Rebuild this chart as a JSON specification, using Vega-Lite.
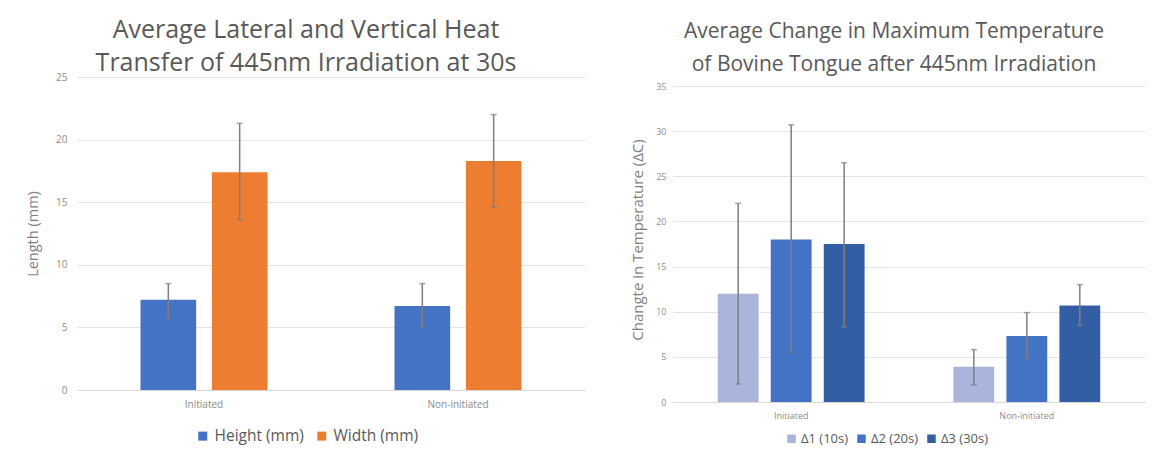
{
  "$schema": "https://vega.github.io/schema/vega-lite/v6.json",
  "padding": {"left": 25, "top": 18, "right": 7, "bottom": 5},
  "background": "white",
  "datasets": {
    "heat": [
      {"group": "Initiated", "series": "Height (mm)", "value": 7.2, "lo": 5.7, "hi": 8.5},
      {"group": "Initiated", "series": "Width (mm)", "value": 17.4, "lo": 13.6, "hi": 21.3},
      {"group": "Non-initiated", "series": "Height (mm)", "value": 6.7, "lo": 5.0, "hi": 8.5},
      {"group": "Non-initiated", "series": "Width (mm)", "value": 18.3, "lo": 14.6, "hi": 22.0}
    ],
    "temp": [
      {"group": "Initiated", "series": "Δ1 (10s)", "value": 12.0, "lo": 2.0, "hi": 22.0},
      {"group": "Initiated", "series": "Δ2 (20s)", "value": 18.0, "lo": 5.5, "hi": 30.7},
      {"group": "Initiated", "series": "Δ3 (30s)", "value": 17.5, "lo": 8.3, "hi": 26.5},
      {"group": "Non-initiated", "series": "Δ1 (10s)", "value": 3.9, "lo": 1.9, "hi": 5.8},
      {"group": "Non-initiated", "series": "Δ2 (20s)", "value": 7.3, "lo": 4.8, "hi": 9.9},
      {"group": "Non-initiated", "series": "Δ3 (30s)", "value": 10.7, "lo": 8.5, "hi": 13.0}
    ]
  },
  "config": {
    "font": "Open Sans",
    "view": {"stroke": null},
    "axis": {"labelColor": "#8c8c8c", "titleColor": "#7f7f7f", "titleFontWeight": "normal", "labelFont": "Open Sans", "titleFont": "Open Sans"},
    "legend": {"labelColor": "#595959", "labelFont": "Open Sans"}
  },
  "spacing": 45,
  "resolve": {"scale": {"color": "independent", "x": "independent", "y": "independent", "xOffset": "independent"}, "legend": {"color": "independent"}},
  "hconcat": [
    {
      "width": 508,
      "height": 313,
      "title": {"text": ["Average Lateral and Vertical Heat", "Transfer of 445nm Irradiation at 30s"], "fontSize": 25, "fontWeight": "normal", "color": "#595959", "lineHeight": 33, "offset": -4, "dx": -25, "font": "Open Sans"},
      "data": {"name": "heat"},
      "encoding": {
        "x": {"field": "group", "type": "nominal", "scale": {"paddingInner": 0.5, "paddingOuter": 0.25},
              "axis": {"title": null, "labelAngle": 0, "labelFontSize": 10, "labelPadding": 9, "ticks": false, "domainColor": "#d9d9d9", "grid": false}},
        "xOffset": {"field": "series", "type": "nominal", "scale": {"paddingInner": 0.22}}
      },
      "layer": [
        {
          "mark": {"type": "bar"},
          "encoding": {
            "y": {"field": "value", "type": "quantitative", "scale": {"domain": [0, 25], "nice": false},
                  "axis": {"title": "Length (mm)", "titleFontSize": 14.5, "titlePadding": 15, "values": [0, 5, 10, 15, 20, 25], "labelFontSize": 10, "labelPadding": 10, "ticks": false, "domain": false, "gridColor": "#e4e4e4"}},
            "color": {"field": "series", "type": "nominal", "scale": {"domain": ["Height (mm)", "Width (mm)"], "range": ["#4472C4", "#ED7D31"]},
                      "legend": {"title": null, "orient": "none", "legendX": 118, "legendY": 351, "direction": "horizontal", "symbolType": "square", "symbolSize": 81, "labelFontSize": 15.5, "labelOffset": 4, "columnPadding": 10, "symbolStrokeWidth": 0}}
          }
        },
        {
          "mark": {"type": "rule", "color": "#7f7f7f", "strokeWidth": 1.5},
          "encoding": {
            "y": {"field": "lo", "type": "quantitative", "title": "Length (mm)", "scale": {"domain": [0, 25], "nice": false}},
            "y2": {"field": "hi"}
          }
        },
        {
          "mark": {"type": "tick", "color": "#7f7f7f", "thickness": 1.5, "size": 6, "orient": "horizontal"},
          "encoding": {"y": {"field": "lo", "type": "quantitative", "title": "Length (mm)", "scale": {"domain": [0, 25], "nice": false}}}
        },
        {
          "mark": {"type": "tick", "color": "#7f7f7f", "thickness": 1.5, "size": 6, "orient": "horizontal"},
          "encoding": {"y": {"field": "hi", "type": "quantitative", "title": "Length (mm)", "scale": {"domain": [0, 25], "nice": false}}}
        }
      ]
    },
    {
      "width": 472,
      "height": 325,
      "title": {"text": ["Average Change in Maximum Temperature", "of Bovine Tongue after 445nm Irradiation"], "fontSize": 21, "fontWeight": "normal", "color": "#595959", "lineHeight": 33, "offset": 2, "dx": -15, "font": "Open Sans"},
      "data": {"name": "temp"},
      "encoding": {
        "x": {"field": "group", "type": "nominal", "scale": {"paddingInner": 0.377, "paddingOuter": 0.19},
              "axis": {"title": null, "labelAngle": 0, "labelFontSize": 9, "labelPadding": 9, "ticks": false, "domainColor": "#d9d9d9", "grid": false}},
        "xOffset": {"field": "series", "type": "nominal", "scale": {"paddingInner": 0.23}}
      },
      "layer": [
        {
          "mark": {"type": "bar"},
          "encoding": {
            "y": {"field": "value", "type": "quantitative", "scale": {"domain": [0, 36], "nice": false},
                  "axis": {"title": "Changte in Temperature (ΔC)", "titleFontSize": 15, "titlePadding": 10, "values": [0, 5, 10, 15, 20, 25, 30, 35], "labelFontSize": 9, "labelPadding": 7, "ticks": false, "domain": false, "gridColor": "#e4e4e4"}},
            "color": {"field": "series", "type": "nominal", "scale": {"domain": ["Δ1 (10s)", "Δ2 (20s)", "Δ3 (30s)"], "range": ["#A9B5DA", "#4472C4", "#345EA4"]},
                      "legend": {"title": null, "orient": "none", "legendX": 112, "legendY": 355, "direction": "horizontal", "symbolType": "square", "symbolSize": 72, "labelFontSize": 13, "labelOffset": 3, "columnPadding": 6, "symbolStrokeWidth": 0}}
          }
        },
        {
          "mark": {"type": "rule", "color": "#7f7f7f", "strokeWidth": 1.5},
          "encoding": {
            "y": {"field": "lo", "type": "quantitative", "title": "Changte in Temperature (ΔC)", "scale": {"domain": [0, 36], "nice": false}},
            "y2": {"field": "hi"}
          }
        },
        {
          "mark": {"type": "tick", "color": "#7f7f7f", "thickness": 1.5, "size": 6, "orient": "horizontal"},
          "encoding": {"y": {"field": "lo", "type": "quantitative", "title": "Changte in Temperature (ΔC)", "scale": {"domain": [0, 36], "nice": false}}}
        },
        {
          "mark": {"type": "tick", "color": "#7f7f7f", "thickness": 1.5, "size": 6, "orient": "horizontal"},
          "encoding": {"y": {"field": "hi", "type": "quantitative", "title": "Changte in Temperature (ΔC)", "scale": {"domain": [0, 36], "nice": false}}}
        }
      ]
    }
  ]
}
